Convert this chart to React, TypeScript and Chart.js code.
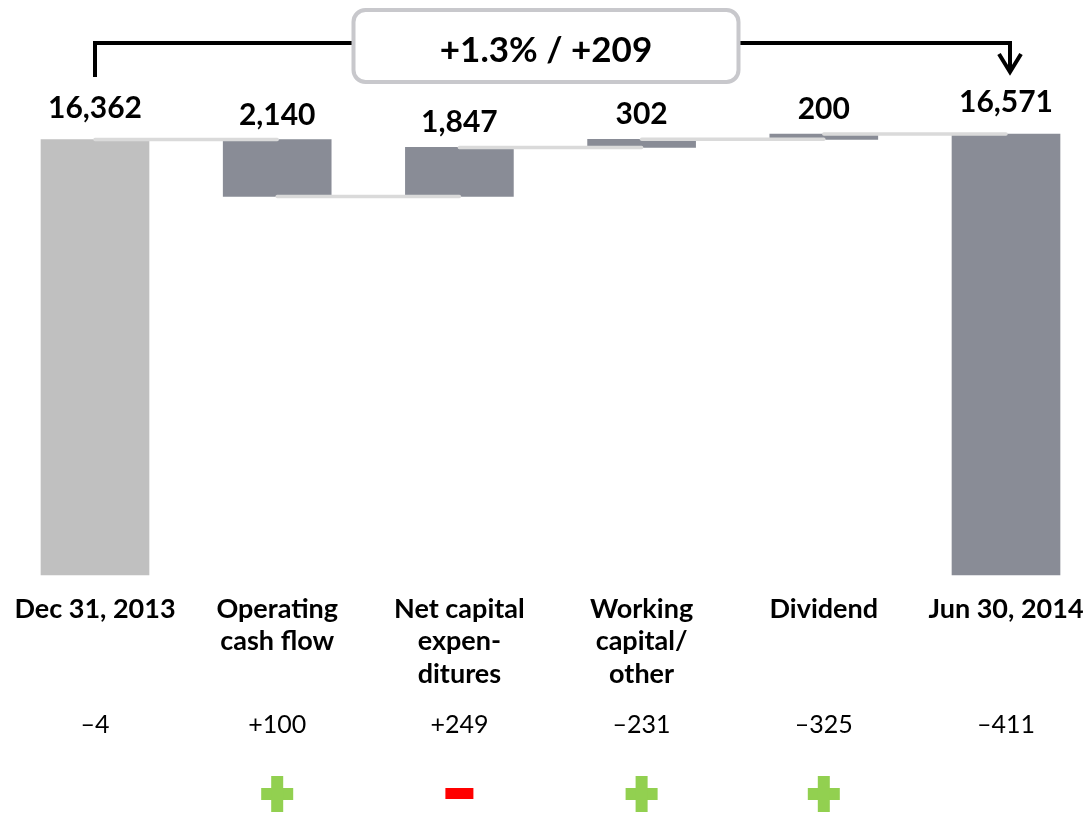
import React, { useEffect, useRef } from "react";
import { Chart, registerables } from "chart.js";

Chart.register(...registerables);

// ---- data ----
const categories: string[][] = [
  ["Dec 31, 2013"],
  ["Operating", "cash flow"],
  ["Net capital", "expen-", "ditures"],
  ["Working", "capital/", "other"],
  ["Dividend"],
  ["Jun 30, 2014"],
];
const startValue = 16362;
const steps = [-2140, 1847, 302, 200];
const endValue = 16571;
const footValues = ["\u20134", "+100", "+249", "\u2013231", "\u2013325", "\u2013411"];
const signIcons = ["", "+", "-", "+", "+", ""];

// ---- derived ----
const running: number[] = [startValue];
steps.forEach((s) => running.push(running[running.length - 1] + s));
const barData: [number, number][] = [
  [0, startValue],
  ...steps.map((s, i) => [running[i], running[i + 1]] as [number, number]),
  [0, endValue],
];
const barLabels = [startValue, ...steps.map((s) => Math.abs(s)), endValue];
const levels = running; // level after each bar 0..4
const diff = endValue - startValue;
const pct = (diff / startValue) * 100;
const summaryText = `${pct >= 0 ? "+" : "\u2013"}${Math.abs(pct).toFixed(1)}% / ${diff >= 0 ? "+" : "\u2013"}${Math.abs(diff)}`;

const FONT = "Lato, 'Open Sans', sans-serif";
const fmt = (v: number) => v.toLocaleString("en-US");

const overlayPlugin = {
  id: "overlay",
  afterDatasetsDraw(chart: any) {
    const ctx: CanvasRenderingContext2D = chart.ctx;
    const meta = chart.getDatasetMeta(0);
    const yScale = chart.scales.y;
    const n = meta.data.length;
    ctx.save();
    // connectors
    ctx.strokeStyle = "#dadada";
    ctx.lineWidth = 3.5;
    ctx.lineCap = "round";
    levels.forEach((lv, i) => {
      if (i + 1 >= n) return;
      const py = yScale.getPixelForValue(lv);
      ctx.beginPath();
      ctx.moveTo(meta.data[i].x, py);
      ctx.lineTo(meta.data[i + 1].x, py);
      ctx.stroke();
    });
    // value labels
    ctx.fillStyle = "#000";
    ctx.font = `bold 30px ${FONT}`;
    ctx.textAlign = "center";
    ctx.textBaseline = "alphabetic";
    meta.data.forEach((el: any, i: number) => {
      const top = Math.min(el.y, el.base);
      const gap = i === 0 || i === n - 1 ? 22 : 15;
      ctx.fillText(fmt(barLabels[i]), el.x, top - gap);
    });

    // bracket
    const xL = meta.data[0].x;
    const xR = meta.data[n - 1].x + 4;
    const yLine = 43;
    ctx.strokeStyle = "#000";
    ctx.lineWidth = 4;
    ctx.lineCap = "butt";
    ctx.lineJoin = "miter";
    ctx.beginPath();
    ctx.moveTo(xL, 77);
    ctx.lineTo(xL, yLine);
    ctx.lineTo(xR, yLine);
    ctx.lineTo(xR, 72);
    ctx.stroke();
    ctx.beginPath();
    ctx.moveTo(xR - 11, 54);
    ctx.lineTo(xR, 72);
    ctx.lineTo(xR + 11, 54);
    ctx.stroke();

    // summary box
    const cx = chart.width / 2;
    const bw = 385, bh = 72, by = 10;
    ctx.beginPath();
    ctx.roundRect(cx - bw / 2, by, bw, bh, 12);
    ctx.fillStyle = "#fff";
    ctx.fill();
    ctx.strokeStyle = "#c8c8cc";
    ctx.lineWidth = 4;
    ctx.stroke();
    ctx.fillStyle = "#000";
    ctx.font = `bold 35px ${FONT}`;
    ctx.textAlign = "center";
    ctx.textBaseline = "alphabetic";
    ctx.fillText(summaryText, cx, 62);

    // footer values
    ctx.font = `25px ${FONT}`;
    meta.data.forEach((el: any, i: number) => {
      ctx.fillText(footValues[i], el.x, 733);
    });

    // icons
    meta.data.forEach((el: any, i: number) => {
      const s = signIcons[i];
      const ix = el.x;
      const iy = 794;
      if (s === "+") {
        ctx.fillStyle = "#92d050";
        ctx.fillRect(ix - 16, iy - 6, 32, 12);
        ctx.fillRect(ix - 6, iy - 18, 12, 36);
      } else if (s === "-") {
        ctx.fillStyle = "#ff0000";
        ctx.fillRect(ix - 14, iy - 6, 28, 11);
      }
    });
    ctx.restore();
  },
};

export default function App() {
  const ref = useRef<HTMLCanvasElement | null>(null);
  useEffect(() => {
    document.body.style.margin = "0";
    if (!ref.current) return;
    const chart = new Chart(ref.current, {
      type: "bar",
      data: {
        labels: categories as any,
        datasets: [
          {
            data: barData as any,
            backgroundColor: barData.map((_, i) => (i === 0 ? "#c0c0c0" : "#898c96")),
            borderWidth: 0,
            barThickness: 108,
            clip: false as any,
          },
        ],
      },
      options: {
        responsive: false,
        animation: false,
        devicePixelRatio: 1,
        layout: { padding: { left: 95, right: 86, top: 96, bottom: 0 } },
        plugins: { legend: { display: false }, tooltip: { enabled: false } },
        scales: {
          x: {
            offset: false,
            grid: { display: false, drawTicks: false },
            border: { display: false },
            ticks: {
              color: "#000",
              padding: 18,
              maxRotation: 0,
              autoSkip: false,
              font: { family: FONT, size: 27, weight: "bold", lineHeight: 1.2 },
            },
            afterFit: (scale: any) => {
              scale.height = 252;
              scale.paddingLeft = 0;
              scale.paddingRight = 0;
            },
          },
          y: {
            display: false,
            min: 0,
            max: 18000,
          },
        },
      },
      plugins: [overlayPlugin],
    });
    return () => chart.destroy();
  }, []);
  return (
    <div style={{ width: 1092, height: 827 }}>
      <canvas ref={ref} width={1092} height={827} style={{ display: "block" }} />
    </div>
  );
}
